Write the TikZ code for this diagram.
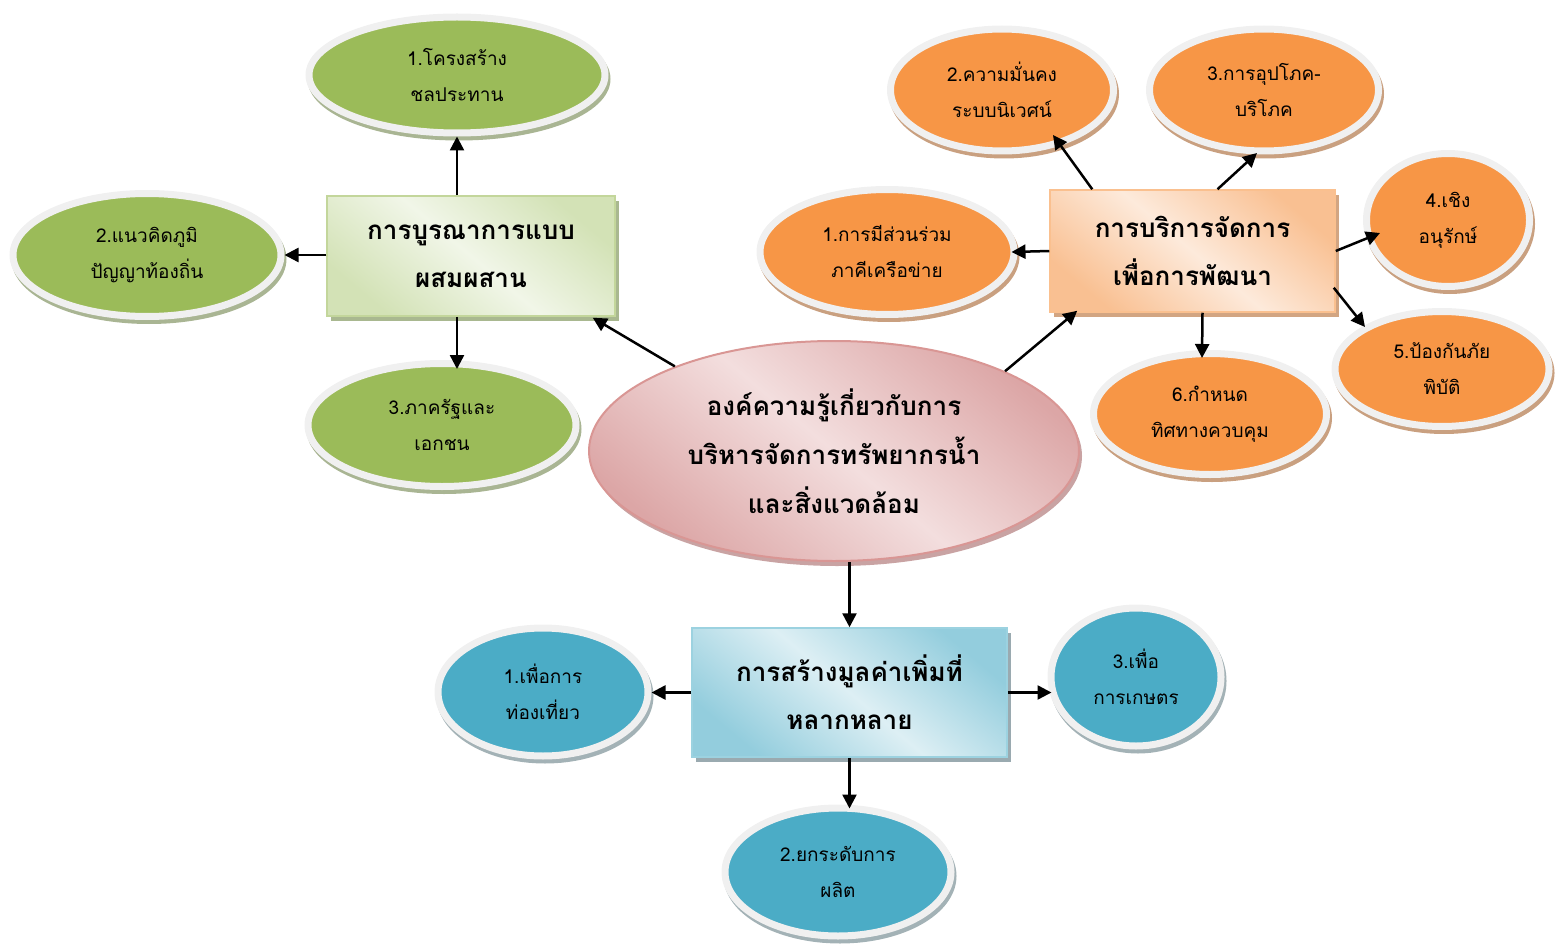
\documentclass[tikz,border=0pt]{standalone}
\usepackage{fontspec}
\newfontfamily\thaifont[Script=Thai]{Loma}
\usetikzlibrary{arrows.meta,shapes.geometric,calc}
\definecolor{gfill}{HTML}{9BBB59}
\definecolor{gshad}{HTML}{A9B593}
\definecolor{ofill}{HTML}{F79646}
\definecolor{oshad}{HTML}{C9A080}
\definecolor{bfill}{HTML}{4BACC6}
\definecolor{bshad}{HTML}{A3B2B6}
\definecolor{halo}{HTML}{F0F0F0}
\definecolor{gbdark}{HTML}{D3E2B6}
\definecolor{gblight}{HTML}{F1F6E8}
\definecolor{gbborder}{HTML}{C3D69B}
\definecolor{gbshad}{HTML}{A9B890}
\definecolor{obdark}{HTML}{F9C092}
\definecolor{oblight}{HTML}{FDEADB}
\definecolor{obborder}{HTML}{FAC08F}
\definecolor{obshad}{HTML}{D2A582}
\definecolor{bbdark}{HTML}{93CDDD}
\definecolor{bblight}{HTML}{DDEFF4}
\definecolor{bbborder}{HTML}{9CD2E0}
\definecolor{bbshad}{HTML}{9AAAB0}
\definecolor{cdark}{HTML}{DCA6A6}
\definecolor{clight}{HTML}{F3DEDE}
\definecolor{cborder}{HTML}{D99694}
\definecolor{cshad}{HTML}{C9A3A3}
\tikzset{
  bub/.style={ellipse, draw=halo, line width=7pt, inner sep=0pt, align=center,
    font=\thaifont\fontsize{19}{36}\selectfont},
  gbub/.style={bub, fill=gfill, preaction={draw=gshad, fill=gshad, line width=7pt,
    transform canvas={xshift=2pt,yshift=-4pt}}},
  obub/.style={bub, fill=ofill, preaction={draw=oshad, fill=oshad, line width=7pt,
    transform canvas={xshift=2pt,yshift=-4pt}}},
  bbub/.style={bub, fill=bfill, preaction={draw=bshad, fill=bshad, line width=7pt,
    transform canvas={xshift=2pt,yshift=-4pt}}},
  box/.style={rectangle, line width=1.5pt, inner sep=0pt, align=center,
    font=\thaifont\bfseries\fontsize{26}{48}\selectfont},
  gboxs/.style={box, draw=gbborder, top color=gbdark, bottom color=gbdark, middle color=gblight,
    shading angle=-40,
    preaction={fill=gbshad, transform canvas={xshift=4pt,yshift=-5pt}}},
  oboxs/.style={box, draw=obborder, top color=obdark, bottom color=obdark, middle color=oblight,
    shading angle=-40,
    preaction={fill=obshad, transform canvas={xshift=4pt,yshift=-5pt}}},
  bboxs/.style={box, draw=bbborder, top color=bbdark, bottom color=bbdark, middle color=bblight,
    shading angle=-40,
    preaction={fill=bbshad, transform canvas={xshift=4pt,yshift=-5pt}}},
  cenell/.style={ellipse, draw=cborder, line width=2pt, inner sep=0pt, align=center,
    top color=cdark, bottom color=cdark, middle color=clight, shading angle=-40,
    font=\thaifont\bfseries\fontsize{26}{49}\selectfont,
    preaction={fill=cshad, transform canvas={xshift=3pt,yshift=-5pt}}},
  arr/.style={line width=2.5pt, -{Triangle[length=14pt,width=14pt]}}
}
\begin{document}
\begin{tikzpicture}[x=1pt,y=-1pt]
\useasboundingbox (0,0) rectangle (1555,944);

% central
\node[cenell, minimum width=490, minimum height=220] (cen) at (834,451)
  {องค์ความรู้เกี่ยวกับการ\\บริหารจัดการทรัพยากรน้ำ\\และสิ่งแวดล้อม};

% green group
\node[gboxs, minimum width=288, minimum height=120] (gbox) at (471,256) {การบูรณาการแบบ\\ผสมผสาน};
\node[gbub, minimum width=296, minimum height=116] (g1) at (457,75) {1.โครงสร้าง\\ชลประทาน};
\node[gbub, minimum width=268, minimum height=123] (g2) at (147,255) {2.แนวคิดภูมิ\\ปัญญาท้องถิ่น};
\node[gbub, minimum width=268, minimum height=123] (g3) at (442,425) {3.ภาครัฐและ\\เอกชน};

% orange group
\node[oboxs, minimum width=285, minimum height=122] (obox) at (1192.5,251) {การบริการจัดการ\\เพื่อการพัฒนา};
\node[obub, minimum width=254, minimum height=125] (o1) at (887,252) {1.การมีส่วนร่วม\\ภาคีเครือข่าย};
\node[obub, minimum width=223, minimum height=122] (o2) at (1002,90) {2.ความมั่นคง\\ระบบนิเวศน์};
\node[obub, minimum width=229, minimum height=122] (o3) at (1264,90) {3.การอุปโภค-\\บริโภค};
\node[obub, minimum width=163, minimum height=133] (o4) at (1448,220) {4.เชิง\\อนุรักษ์};
\node[obub, minimum width=214, minimum height=115] (o5) at (1442,369) {5.ป้องกันภัย\\พิบัติ};
\node[obub, minimum width=233, minimum height=121] (o6) at (1210,414) {6.กำหนด\\ทิศทางควบคุม};

% blue group
\node[bboxs, minimum width=315, minimum height=129] (bbox) at (849.5,692.5) {การสร้างมูลค่าเพิ่มที่\\หลากหลาย};
\node[bbub, minimum width=210, minimum height=128] (b1) at (543,692) {1.เพื่อการ\\ท่องเที่ยว};
\node[bbub, minimum width=226, minimum height=128] (b2) at (838,872) {2.ยกระดับการ\\ผลิต};
\node[bbub, minimum width=170, minimum height=138] (b3) at (1136,677) {3.เพื่อ\\การเกษตร};

% arrows
\draw[arr] (gbox.north -| g1.south) -- (g1.south);
\draw[arr] (gbox.west |- g2.east) -- (g2.east);
\draw[arr] (gbox.south -| g1.south) -- ($(g3.north -| g1.south)+(0,9)$);
\draw[arr] (cen.152) -- ($(gbox.south east)+(-23,1)$);
\draw[arr] (cen.25) -- ($(obox.south west)+(28,-2)$);
\draw[arr] ($(obox.north west)+(43,0)$) -- ($(o2.center)+(51,45)$);
\draw[arr] ($(obox.north)+(25,0)$) -- ($(o3.center)+(-7,63)$);
\draw[arr] (obox.west) -- ($(o1.east)+(-6,0)$);
\draw[arr] (obox.east) -- ($(o4.center)+(-68,13)$);
\draw[arr] ($(obox.south east)+(-2,-25)$) -- ($(o5.center)+(-77,-42)$);
\draw[arr] ($(obox.south)+(10,0)$) -- ($(o6.center)+(-8,-56)$);
\draw[arr] (cen.south -| bbox.north) -- (bbox.north);
\draw[arr] (bbox.west) -- (bbox.west -| b1.east);
\draw[arr] (bbox.east) -- ($(bbox.east -| b3.west)+(4,0)$);
\draw[arr] (bbox.south) -- ($(bbox.south |- b2.north)+(0,4)$);
\end{tikzpicture}
\end{document}
